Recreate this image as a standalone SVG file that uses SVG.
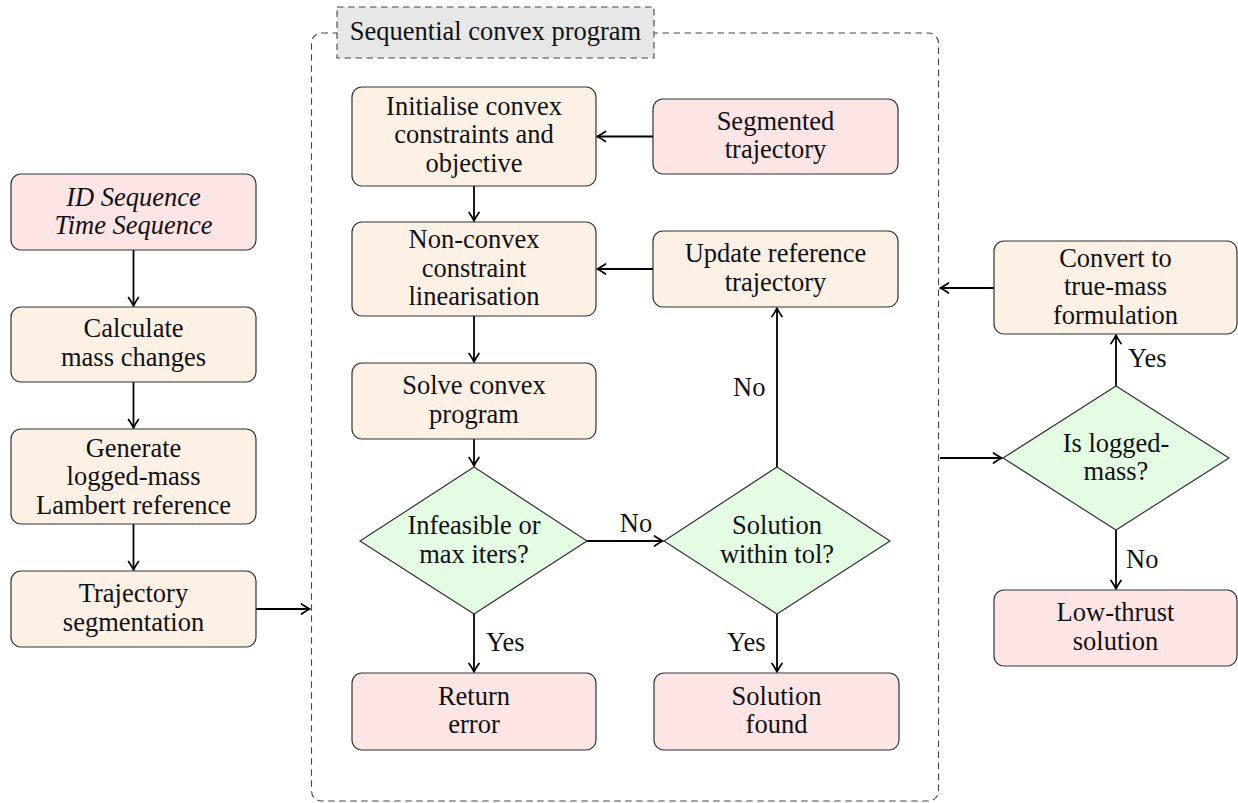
<svg xmlns="http://www.w3.org/2000/svg" width="1238" height="803" viewBox="0 0 1238 803">
<defs>
<style>
text{font-family:"Liberation Serif","Times New Roman",serif;font-size:26.5px;fill:#111;text-anchor:middle}
.l{text-anchor:start}
.it{font-style:italic}
.box{stroke:#333;stroke-width:1.2}
.or{fill:#fdf0e5}
.pk{fill:#fde4e5}
.gr{fill:#e4fbe4}
.dash{fill:none;stroke:#444;stroke-width:1.1;stroke-dasharray:6.5 4.5}
.c{fill:none;stroke:#000;stroke-width:1.8;marker-end:url(#ah)}
</style>
<marker id="ah" viewBox="-12 -7 14 14" refX="0" refY="0" markerWidth="14" markerHeight="14" markerUnits="userSpaceOnUse" orient="auto">
<path d="M-8.5,-5 Q-3,-1.2 0,0 Q-3,1.2 -8.5,5" fill="none" stroke="#000" stroke-width="1.7" stroke-linecap="round" stroke-linejoin="round"/>
</marker>
</defs>
<rect width="1238" height="803" fill="#fff"/>

<g id="container">
<rect class="dash" x="311.5" y="33" width="627" height="768" rx="10"/>
<rect x="337" y="7" width="317" height="51" fill="#e7e7e7" stroke="#444" stroke-width="1.1" stroke-dasharray="6.5 4.5"/>
<text x="495.5" y="40">Sequential convex program</text>
</g>

<g id="connectors">
<line class="c" x1="133.5" y1="250" x2="133.5" y2="306"/>
<line class="c" x1="133.5" y1="382" x2="133.5" y2="428"/>
<line class="c" x1="133.5" y1="524" x2="133.5" y2="570"/>
<line class="c" x1="256" y1="609" x2="310" y2="609"/>
<line class="c" x1="653" y1="136.5" x2="597" y2="136.5"/>
<line class="c" x1="474" y1="186" x2="474" y2="221"/>
<line class="c" x1="653" y1="269" x2="597" y2="269"/>
<line class="c" x1="474" y1="316" x2="474" y2="362"/>
<line class="c" x1="474" y1="439" x2="474" y2="466"/>
<line class="c" x1="587" y1="541" x2="663" y2="541"/>
<line class="c" x1="777" y1="468" x2="777" y2="308"/>
<line class="c" x1="474" y1="614" x2="474" y2="672"/>
<line class="c" x1="777" y1="614" x2="777" y2="672"/>
<line class="c" x1="994" y1="288" x2="940" y2="288"/>
<line class="c" x1="940" y1="458" x2="1002" y2="458"/>
<line class="c" x1="1116" y1="386" x2="1116" y2="335"/>
<line class="c" x1="1116" y1="530" x2="1116" y2="589"/>
<text x="636" y="532">No</text>
<text class="l" x="733" y="396">No</text>
<text class="l" x="486" y="651">Yes</text>
<text class="l" x="727" y="651">Yes</text>
<text class="l" x="1128" y="367">Yes</text>
<text class="l" x="1126" y="568">No</text>
</g>

<g id="id-sequence">
<rect class="box pk" x="11" y="174" width="245" height="76" rx="10"/>
<text class="it" x="133.5" y="205.5">ID Sequence</text>
<text class="it" x="133.5" y="234">Time Sequence</text>
</g>
<g id="calculate">
<rect class="box or" x="11" y="307" width="245" height="75" rx="10"/>
<text x="133.5" y="337">Calculate</text>
<text x="133.5" y="365.5">mass changes</text>
</g>
<g id="generate">
<rect class="box or" x="11" y="429" width="245" height="95" rx="10"/>
<text x="133.5" y="456.5">Generate</text>
<text x="133.5" y="485">logged-mass</text>
<text x="133.5" y="513.5">Lambert reference</text>
</g>
<g id="segmentation">
<rect class="box or" x="11" y="571" width="245" height="76" rx="10"/>
<text x="133.5" y="602">Trajectory</text>
<text x="133.5" y="630.5">segmentation</text>
</g>

<g id="initialise">
<rect class="box or" x="352" y="87" width="244" height="99" rx="10"/>
<text x="474" y="114.5">Initialise convex</text>
<text x="474" y="143">constraints and</text>
<text x="474" y="171.5">objective</text>
</g>
<g id="segmented">
<rect class="box pk" x="653" y="99" width="245" height="75" rx="10"/>
<text x="775.5" y="129.5">Segmented</text>
<text x="775.5" y="158">trajectory</text>
</g>
<g id="linearisation">
<rect class="box or" x="352" y="222" width="244" height="94" rx="10"/>
<text x="474" y="248">Non-convex</text>
<text x="474" y="276.5">constraint</text>
<text x="474" y="305">linearisation</text>
</g>
<g id="update">
<rect class="box or" x="653" y="231" width="245" height="76" rx="10"/>
<text x="775.5" y="262">Update reference</text>
<text x="775.5" y="290.5">trajectory</text>
</g>
<g id="solve">
<rect class="box or" x="352" y="363" width="244" height="76" rx="10"/>
<text x="474" y="394">Solve convex</text>
<text x="474" y="422.5">program</text>
</g>
<g id="infeasible">
<polygon class="box gr" points="474,467 587,541 474,614 360,541"/>
<text x="474" y="534">Infeasible or</text>
<text x="474" y="562.5">max iters?</text>
</g>
<g id="within-tol">
<polygon class="box gr" points="777,467 890,541 777,614 664,541"/>
<text x="777" y="534">Solution</text>
<text x="777" y="562.5">within tol?</text>
</g>
<g id="return-error">
<rect class="box pk" x="352" y="673" width="244" height="77" rx="10"/>
<text x="474" y="704.5">Return</text>
<text x="474" y="733">error</text>
</g>
<g id="solution-found">
<rect class="box pk" x="654" y="673" width="245" height="77" rx="10"/>
<text x="776.5" y="704.5">Solution</text>
<text x="776.5" y="733">found</text>
</g>

<g id="convert">
<rect class="box or" x="994" y="241" width="243" height="93" rx="10"/>
<text x="1115.5" y="266.5">Convert to</text>
<text x="1115.5" y="295">true-mass</text>
<text x="1115.5" y="323.5">formulation</text>
</g>
<g id="logged-mass">
<polygon class="box gr" points="1116,386 1229,458 1116,530 1003,458"/>
<text x="1116" y="451.5">Is logged-</text>
<text x="1116" y="480">mass?</text>
</g>
<g id="low-thrust">
<rect class="box pk" x="994" y="590" width="243" height="76" rx="10"/>
<text x="1115.5" y="621">Low-thrust</text>
<text x="1115.5" y="649.5">solution</text>
</g>
</svg>
